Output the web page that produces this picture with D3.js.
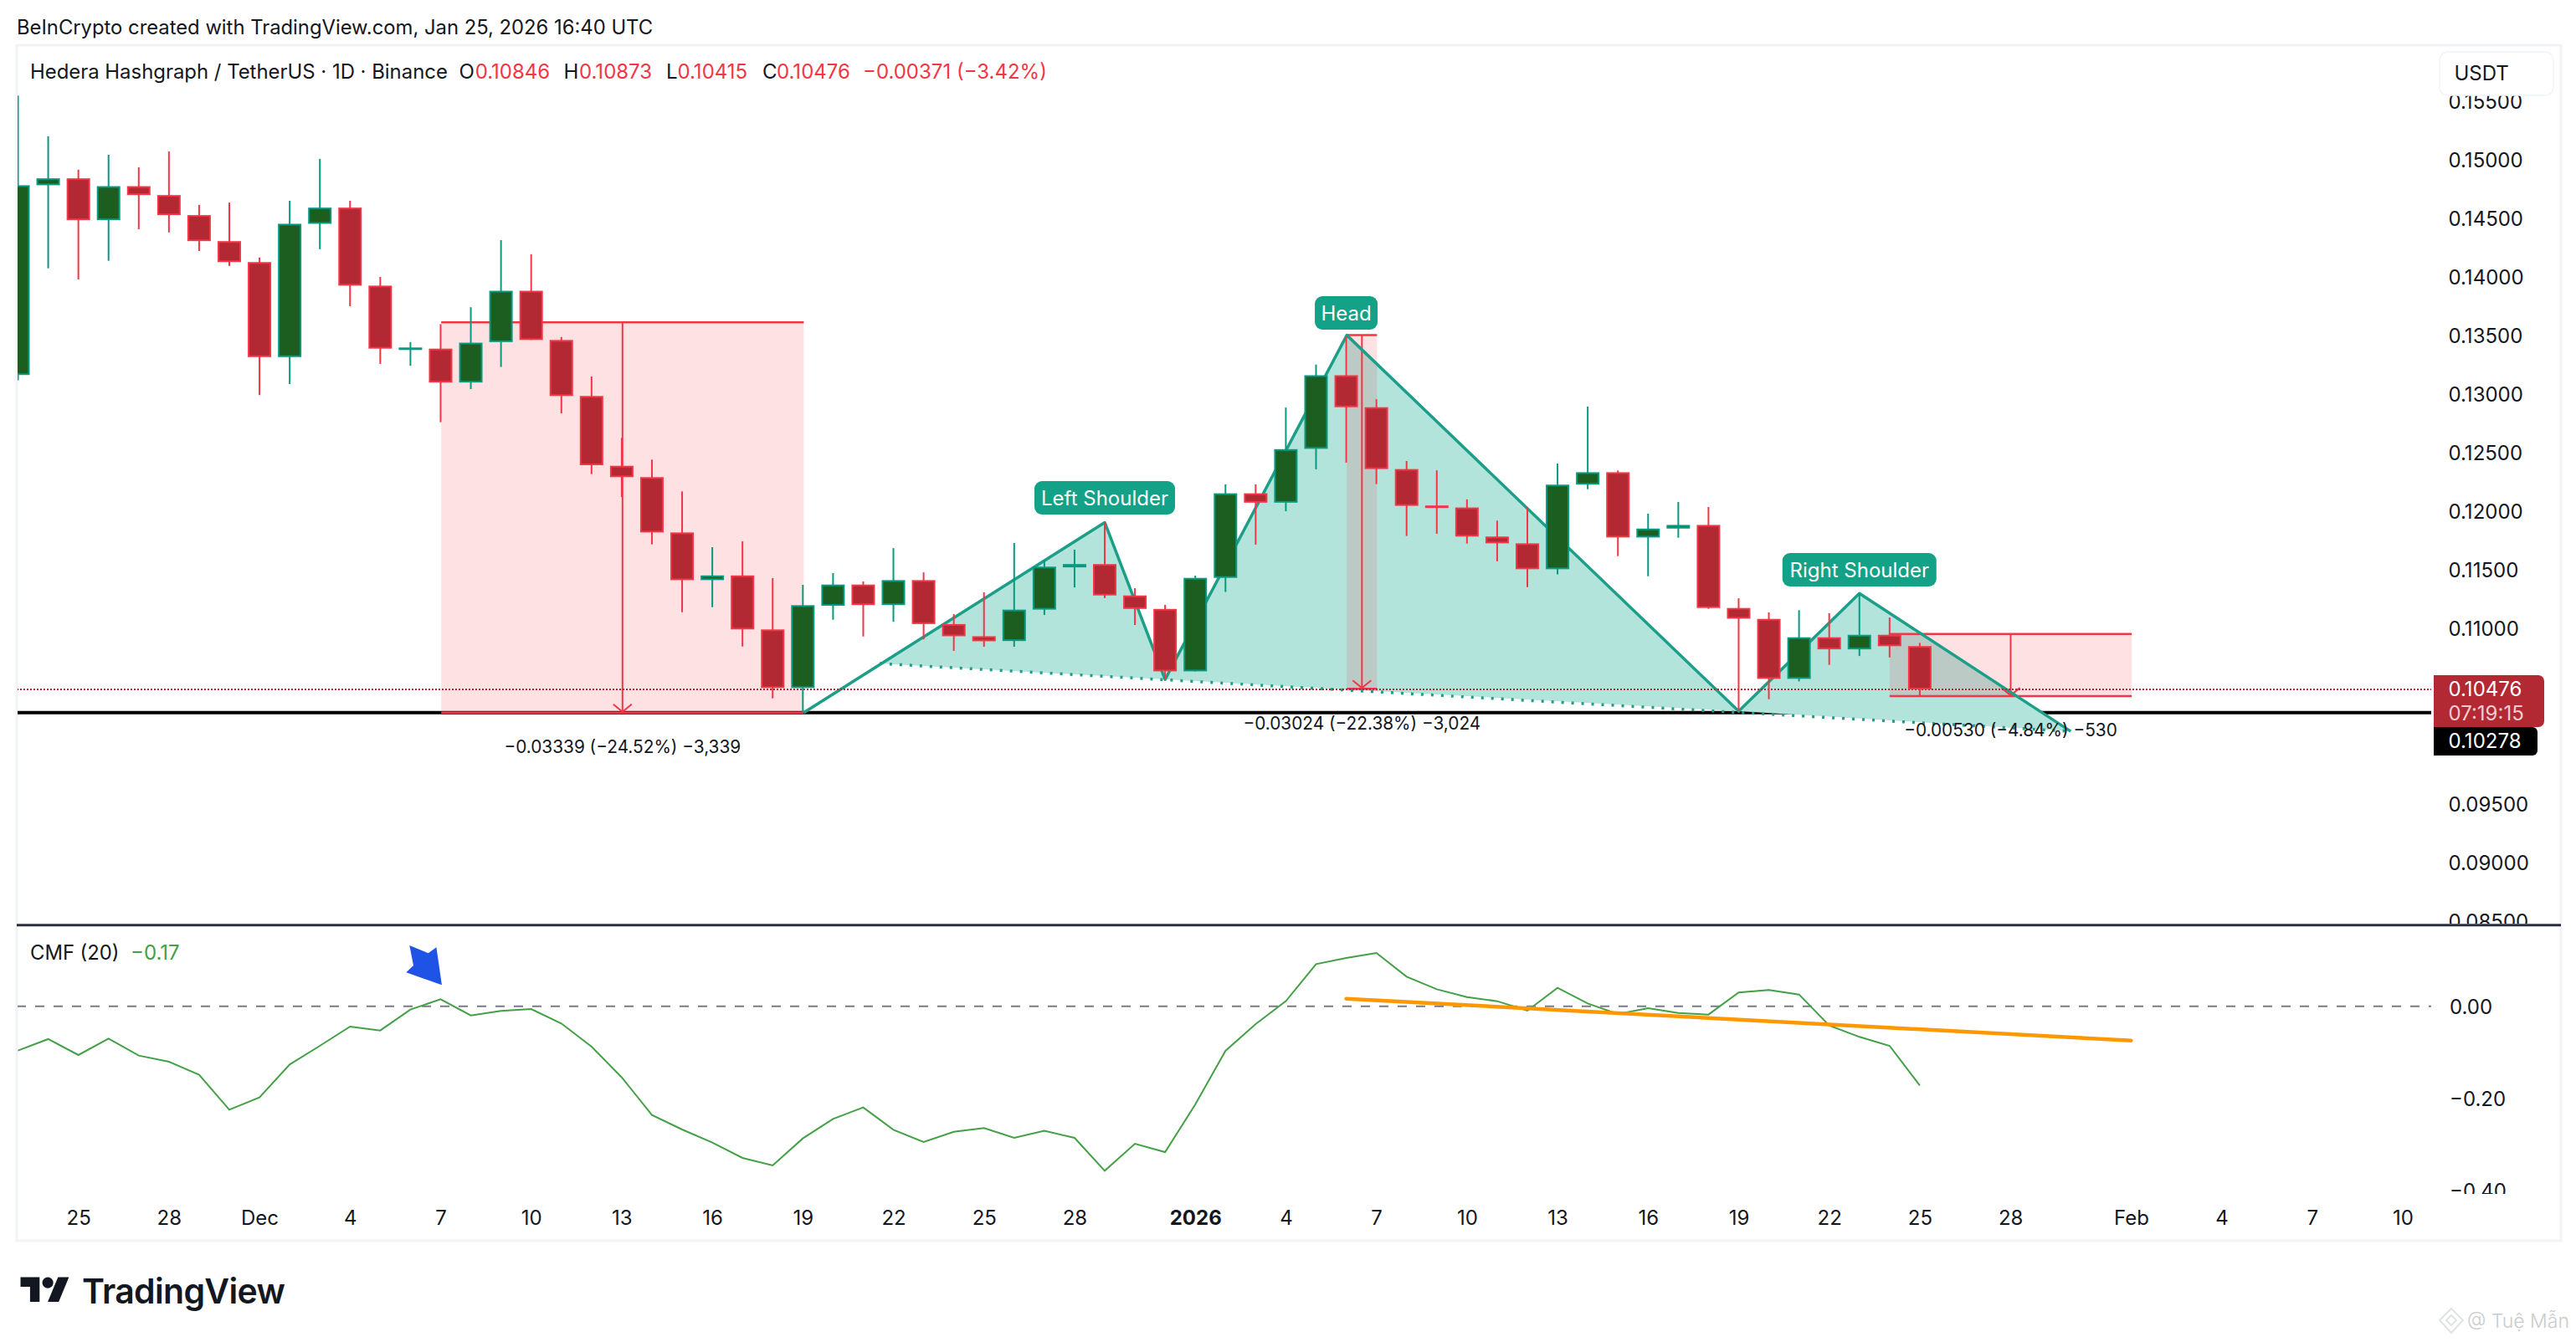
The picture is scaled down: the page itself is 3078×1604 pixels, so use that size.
<!DOCTYPE html>
<html><head><meta charset="utf-8">
<style>
html,body{margin:0;padding:0;background:#fff;width:3078px;height:1604px;overflow:hidden}
svg{display:block}
text{font-family:Inter,"Noto Sans",sans-serif;fill:#131722}
.axis path,.axis line{display:none}
</style>
<script src="https://cdn.jsdelivr.net/npm/d3@7/dist/d3.min.js"></script>
</head><body><svg id="c" width="3078" height="1604"></svg>
<script>
const opens=[.13160,.14780,.14839,.14482,.14772,.14696,.14525,.14303,.14124,.13313,.14451,.14589,.13923,.13385,.13385,.13096,.13441,.13879,.13459,.12981,.12385,.12288,.11816,.11409,.11449,.10988,.10488,.11190,.11371,.11196,.11409,.11034,.10930,.10889,.11157,.11518,.11546,.11278,.11163,.10630,.11428,.12150,.12070,.12530,.13158,.12885,.12357,.12046,.12029,.11781,.11723,.11502,.12224,.12330,.11773,.11849,.11880,.11171,.11078,.10566,.10921,.10818,.10942,.10846];
const highs=[.15545,.15198,.14913,.15040,.14933,.15068,.14612,.14632,.14163,.14647,.15005,.14647,.13997,.13441,.13594,.13739,.14311,.14191,.13484,.13147,.12623,.12438,.12166,.11690,.11740,.11426,.11369,.11469,.11398,.11682,.11475,.11119,.11305,.11726,.11581,.11669,.11901,.11340,.11198,.11447,.12226,.12226,.12882,.13249,.13486,.12953,.12426,.12346,.12098,.11917,.12032,.12404,.12890,.12345,.11976,.12076,.12033,.11254,.11133,.11152,.11126,.11290,.11090,.10873];
const lows=[.13115,.14071,.13976,.14135,.14405,.14377,.14219,.14091,.12989,.13083,.14234,.13747,.13255,.13239,.12757,.13040,.13229,.13459,.12833,.12314,.12119,.11714,.11135,.11178,.10842,.10400,.10278,.11071,.10928,.11053,.10903,.10805,.10840,.10840,.11111,.11346,.11256,.11026,.10561,.10630,.11308,.11712,.11997,.12355,.12412,.12229,.11786,.11805,.11721,.11570,.11349,.11458,.12185,.11614,.11442,.11771,.11164,.10290,.10392,.10545,.10685,.10761,.10749,.10415];
const closes=[.14780,.14839,.14482,.14772,.14696,.14525,.14303,.14124,.13313,.14451,.14589,.13923,.13385,.13395,.13096,.13436,.13879,.13459,.12981,.12390,.12288,.11816,.11409,.11449,.10988,.10488,.11195,.11371,.11196,.11409,.11034,.10930,.10887,.11157,.11524,.11546,.11278,.11163,.10630,.11428,.12150,.12070,.12527,.13158,.12885,.12357,.12043,.12029,.11781,.11723,.11502,.12224,.12330,.11773,.11849,.11880,.11171,.11080,.10566,.10921,.10818,.10942,.10845,.10476];
const cmf=[-.0963,-.0714,-.1060,-.0702,-.1072,-.1205,-.1490,-.2248,-.1981,-.1266,-.0860,-.0442,-.0527,-.0072,.0152,-.0199,-.0102,-.0060,-.0375,-.0878,-.1545,-.2363,-.2678,-.2963,-.3296,-.3460,-.2872,-.2448,-.2199,-.2684,-.2951,-.2727,-.2648,-.2860,-.2708,-.2860,-.3575,-.2987,-.3169,-.2133,-.0969,-.0387,.0110,.0916,.1049,.1158,.0643,.0370,.0201,.0110,-.0096,.0401,.0061,-.0169,-.0042,-.0145,-.0181,.0298,.0352,.0255,-.0417,-.0666,-.0860,-.1720];
const priceTicks=[.155,.15,.145,.14,.135,.13,.125,.12,.115,.11,.095,.09,.085];
const cmfTicks=[0,-.2,-.4];
const timeTickIdx=[2,5,8,11,14,17,20,23,26,29,32,35,39,42,45,48,51,54,57,60,63,66,70,73,76,79];
const timeTickLabels=["25","28","Dec","4","7","10","13","16","19","22","25","28","2026","4","7","10","13","16","19","22","25","28","Feb","4","7","10"];
// drawing anchors: [start idx, end idx, top price, bottom price, label]
const ranges=[[14.02,26.03,.13610,.10278,"−0.03339 (−24.52%) −3,339"],[44.02,45.02,.13500,.10482,"−0.03024 (−22.38%) −3,024"],[62,70.02,.10949,.10418,"−0.00530 (−4.84%) −530"]];
const patternIdx=[26.03,36,38,44.02,57,61,68];
const patternPrice=[.10278,.11901,.10561,.13500,.10290,.11295,.10118];
const neckIdx=[28.54,68];
const neckPrice=[.10697,.10118];
const trendIdx=[44,70];
const trendCmf=[.0164,-.0745];
const arrowIdx=[12.97,13.59,13.86,14.04,12.86,13.1];
const arrowCmf=[.1322,.1153,.1280,.0462,.0734,.0885];
const lastPrice=.10476, lowLine=.10278;
const RED="#f23645",REDB="#b22833",GRN="#089981",GRNB="#1b5e20",TEAL="#1d9e88";

const svg=d3.select("#c");
const x=d3.scaleLinear().domain([0,63]).range([21.5,2293.9]);
const y=d3.scaleLinear().domain([.10476,.15]).range([824,190.6]);
const yc=d3.scaleLinear().domain([0,-.2]).range([1202.7,1312.7]);
const defs=svg.append("defs");
defs.append("clipPath").attr("id","pp").append("rect").attr("x",21).attr("y",55).attr("width",2884).attr("height",1050);
defs.append("clipPath").attr("id","pa").append("rect").attr("x",2906).attr("y",55).attr("width",150).attr("height",1049);
defs.append("clipPath").attr("id","ca").append("rect").attr("x",2906).attr("y",1107).attr("width",150).attr("height",320);
defs.append("clipPath").attr("id","cp").append("rect").attr("x",21).attr("y",1107).attr("width",2884).attr("height",320);

// frame
svg.append("rect").attr("x",20).attr("y",54).attr("width",3040).attr("height",1429).attr("fill","#fff").attr("stroke","#f2f3f5").attr("stroke-width",3);

const P=svg.append("g").attr("clip-path","url(#pp)");
// low line
P.append("line").attr("x1",20).attr("x2",2905).attr("y1",y(lowLine)).attr("y2",y(lowLine)).attr("stroke","#000").attr("stroke-width",4);

// H&S fills
const pts=patternIdx.map((d,i)=>[x(d),y(patternPrice[i])]);
const nL=[x(neckIdx[0]),y(neckPrice[0])],nR=[x(neckIdx[1]),y(neckPrice[1])];
const ln=d3.line();
[[nL,pts[1],pts[2]],[pts[2],pts[3],pts[4]],[pts[4],pts[5],nR]].forEach(t=>{
  P.append("path").attr("d",ln(t)+"Z").attr("fill","#b2e4dc");
});
// ranges
ranges.forEach(r=>{
  const x0=x(r[0]),x1=x(r[1]),yt=y(r[2]),yb=y(r[3]),xm=(x0+x1)/2;
  P.append("rect").attr("x",x0).attr("y",yt).attr("width",x1-x0).attr("height",yb-yt).attr("fill",RED).attr("fill-opacity",.15);
  [yt,yb].forEach(v=>P.append("line").attr("x1",x0).attr("x2",x1).attr("y1",v).attr("y2",v).attr("stroke",RED).attr("stroke-width",2.5));
  P.append("line").attr("x1",xm).attr("x2",xm).attr("y1",yt).attr("y2",yb).attr("stroke",RED).attr("stroke-width",2);
  P.append("path").attr("d",`M${xm-11},${yb-10}L${xm},${yb-1}L${xm+11},${yb-10}`).attr("fill","none").attr("stroke",RED).attr("stroke-width",2);
});
// neckline + pattern lines
P.append("path").attr("d",ln([nL,nR])).attr("fill","none").attr("stroke",TEAL).attr("stroke-width",3.5).attr("stroke-dasharray","3 9");
P.append("path").attr("d",ln(pts)).attr("fill","none").attr("stroke",TEAL).attr("stroke-width",3.5).attr("stroke-linejoin","round");
// last price
P.append("line").attr("x1",20).attr("x2",2905).attr("y1",y(lastPrice)).attr("y2",y(lastPrice)).attr("stroke",REDB).attr("stroke-width",2).attr("stroke-dasharray","2 2");

// candles
const idx=d3.range(opens.length);
const up=i=>closes[i]>=opens[i];
P.selectAll("line.w").data(idx).join("line").attr("class","w").attr("x1",i=>x(i)).attr("x2",i=>x(i)).attr("y1",i=>y(highs[i])).attr("y2",i=>y(lows[i])).attr("stroke",i=>up(i)?GRN:RED).attr("stroke-width",2);
P.selectAll("rect.b").data(idx).join("rect").attr("class","b")
 .attr("x",i=>x(i)-13).attr("width",26)
 .attr("y",i=>y(Math.max(opens[i],closes[i]))+1)
 .attr("height",i=>Math.max(1,y(Math.min(opens[i],closes[i]))-y(Math.max(opens[i],closes[i]))-2))
 .attr("fill",i=>up(i)?GRNB:REDB).attr("stroke",i=>up(i)?GRN:RED).attr("stroke-width",2);

// range labels
const lblY=[893,864.5,873];
ranges.forEach((r,k)=>{
  svg.append("text").attr("x",(x(r[0])+x(r[1]))/2).attr("y",lblY[k]).attr("dy",".35em").attr("text-anchor","middle").style("font-size","20.8px").text(r[4]);
});
// pattern labels
[["Left Shoulder",36,575,615,168],["Head",44,354,394,75],["Right Shoulder",61,661,701,184]].forEach(l=>{
  const cx=x(l[1]);
  svg.append("rect").attr("x",cx-l[4]/2).attr("y",l[2]).attr("width",l[4]).attr("height",l[3]-l[2]).attr("rx",9).attr("fill","#13a188");
  svg.append("text").attr("x",cx).attr("y",(l[2]+l[3])/2).attr("dy",".36em").attr("text-anchor","middle").style("fill","#fff").style("font-size","24px").text(l[0]);
});

// price axis
const ax=svg.append("g").attr("clip-path","url(#pa)").append("g").attr("class","axis").attr("transform","translate(2925.5,1.5)")
 .call(d3.axisRight(y).tickValues(priceTicks).tickSize(0).tickPadding(0).tickFormat(d3.format(".5f")));
ax.selectAll("text").attr("text-anchor","start").style("font-size","24px").style("font-family","Inter");

// price labels
svg.append("path").attr("d","M2908,807H3033a7,7 0 0 1 7,7V862a7,7 0 0 1 -7,7H2908Z").attr("fill",REDB);
svg.append("path").attr("d","M2908,869H3026a6,6 0 0 1 6,6V897a6,6 0 0 1 -6,6H2908Z").attr("fill","#000");
svg.append("text").attr("x",2925.5).attr("y",823).attr("dy",".36em").style("fill","#fff").style("font-size","24px").text("0.10476");
svg.append("text").attr("x",2925.5).attr("y",852).attr("dy",".36em").style("fill","#f6cdd1").style("font-size","24px").text("07:19:15");
svg.append("text").attr("x",2925.5).attr("y",885.7).attr("dy",".36em").style("fill","#fff").style("font-size","24px").text("0.10278");

// USDT box
svg.append("rect").attr("x",2915).attr("y",62).attr("width",136).attr("height",52).attr("rx",10).attr("fill","#fff").attr("stroke","#f0f3fa").attr("stroke-width",1.5);
svg.append("text").attr("x",2932.5).attr("y",87.5).attr("dy",".36em").style("font-size","24px").text("USDT");

// separator
svg.append("line").attr("x1",20).attr("x2",3060).attr("y1",1105.7).attr("y2",1105.7).attr("stroke","#2a2e39").attr("stroke-width",3);

// CMF pane
const C=svg.append("g").attr("clip-path","url(#cp)");
C.append("line").attr("x1",20).attr("x2",2907).attr("y1",yc(0)).attr("y2",yc(0)).attr("stroke","#787b86").attr("stroke-width",2).attr("stroke-dasharray","11 11");
C.append("path").attr("d",d3.line().x(i=>x(i)).y(i=>yc(cmf[i]))(idx)).attr("fill","none").attr("stroke","#43a047").attr("stroke-width",2);
C.append("path").attr("d",d3.line().x((d,i)=>x(d)).y((d,i)=>yc(trendCmf[i]))(trendIdx)).attr("fill","none").attr("stroke","#ff9800").attr("stroke-width",4.5).attr("stroke-linecap","round");
C.append("path").attr("d",d3.line().x((d,i)=>x(d)).y((d,i)=>yc(arrowCmf[i]))(arrowIdx)+"Z").attr("fill","#1e53e5");
const ac=svg.append("g").attr("clip-path","url(#ca)").append("g").attr("class","axis").attr("transform","translate(2927,1.5)")
 .call(d3.axisRight(yc).tickValues(cmfTicks).tickSize(0).tickPadding(0).tickFormat(d3.format(".2f")));
ac.selectAll("text").attr("text-anchor","start").style("font-size","24px");

// time axis
const at=svg.append("g").attr("class","axis").attr("transform","translate(0,1447)")
 .call(d3.axisBottom(x).tickValues(timeTickIdx).tickSize(0).tickPadding(0).tickFormat((d,i)=>timeTickLabels[i]));
at.selectAll("text").style("font-size","24px").style("font-weight",(d,i)=>timeTickLabels[i]==="2026"?"700":"400");

// header + legend
svg.append("text").attr("x",20).attr("y",32).attr("dy",".36em").style("font-size","23.8px").text("BeInCrypto created with TradingView.com, Jan 25, 2026 16:40 UTC");
const T=(tx,s,f)=>svg.append("text").attr("x",tx).attr("y",85.7).attr("dy",".36em").style("font-size","24px").style("fill",f||"#131722").text(s);
T(36,"Hedera Hashgraph / TetherUS · 1D · Binance").style("font-size","23.9px");
T(548.6,"O");T(567.7,"0.10846",RED);T(673.5,"H");T(692,"0.10873",RED);T(796,"L");T(809.5,"0.10415",RED);T(911,"C");T(928,"0.10476",RED);T(1031,"−0.00371 (−3.42%)",RED);
svg.append("text").attr("x",36).attr("y",1138).attr("dy",".36em").style("font-size","23.8px").text("CMF (20)");
svg.append("text").attr("x",156).attr("y",1138).attr("dy",".36em").style("font-size","24px").style("fill","#43a047").text("−0.17");

// logo
const lg=svg.append("g").attr("transform","translate(24.5,1520.1) scale(1.63)");
lg.append("path").attr("d","M14 22H7V11H0V4h14v18zM28 22h-8l7.5-18h8L28 22z").attr("fill","#131722");
lg.append("circle").attr("cx",20).attr("cy",8).attr("r",4).attr("fill","#131722");
svg.append("text").attr("x",98).attr("y",1558).style("font-size","41px").style("font-weight","600").style("letter-spacing","-0.7px").text("TradingView");

// watermark
const wm=svg.append("g").attr("stroke","#dfe3e3").attr("fill","none").attr("stroke-width",2);
wm.append("path").attr("d","M2929,1564L2943,1578L2929,1593L2915,1578Z");
wm.append("path").attr("d","M2929,1572L2935,1578L2929,1584L2923,1578Z");
svg.append("text").attr("x",2948).attr("y",1579).attr("dy",".36em").style("font-size","23px").style("font-weight","300").style("fill","#c8cccc").text("@ Tuệ Mẫn");
</script></body></html>
